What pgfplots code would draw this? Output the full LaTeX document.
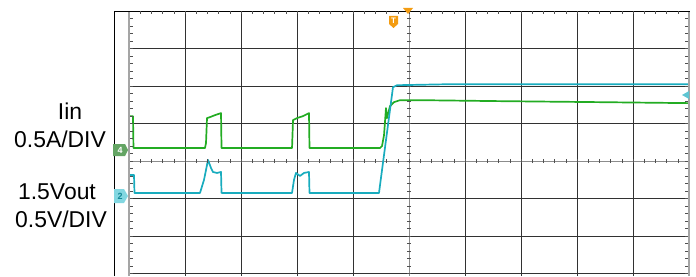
\documentclass[border=0pt]{standalone}
\usepackage{pgfplots}
\pgfplotsset{compat=1.18}
\usepackage{fontspec}
\setmainfont{Liberation Sans}
\definecolor{igreen}{RGB}{35,172,35}
\definecolor{vcyan}{RGB}{25,172,190}
\definecolor{gridc}{RGB}{50,50,50}
\definecolor{borderc}{RGB}{165,165,165}
\definecolor{centerc}{RGB}{140,140,140}
\definecolor{tickc}{RGB}{80,80,80}
\definecolor{trigo}{RGB}{243,156,18}
\definecolor{gmark}{RGB}{100,165,100}
\definecolor{cmark}{RGB}{130,215,225}

% traces in screen divisions (x: 10 div, y: centre line = 0)
\pgfplotstableread{
x y
-5.000 1.197
-4.929 1.197
-4.920 0.346
-3.643 0.346
-3.625 0.479
-3.607 1.144
-3.554 1.170
-3.464 1.223
-3.357 1.277
-3.348 0.346
-2.089 0.346
-2.071 1.090
-2.000 1.144
-1.893 1.197
-1.786 1.277
-1.777 0.346
-0.518 0.346
-0.482 0.399
-0.446 0.691
-0.411 1.410
-0.393 1.144
-0.339 1.463
-0.268 1.569
-0.161 1.622
0.196 1.622
1.625 1.596
3.411 1.569
5.000 1.543
}\iintable

\pgfplotstableread{
x y
-5.000 -0.372
-4.911 -0.372
-4.902 -0.851
-3.732 -0.851
-3.661 -0.505
-3.589 0.027
-3.536 -0.186
-3.500 -0.293
-3.429 -0.319
-3.357 -0.293
-3.348 -0.851
-2.089 -0.851
-2.054 -0.505
-2.018 -0.319
-1.946 -0.399
-1.875 -0.319
-1.786 -0.293
-1.777 -0.851
-0.536 -0.851
-0.286 1.968
-0.214 2.021
0.732 2.048
2.518 2.048
5.000 2.048
}\vouttable

\begin{document}
\begin{tikzpicture}[x=1bp,y=1bp]
\useasboundingbox (0,0) rectangle (696,276);
% outer frame lines
\draw[black, line width=0.9bp] (114,0) -- (114,265);
\begin{axis}[
  at={(129bp,0bp)}, anchor=south west,
  width=560bp, height=265bp, scale only axis,
  xmin=-5, xmax=5, ymin=-3.067, ymax=4,
  axis line style={draw=none},
  xtick={-4,-3,-2,-1,1,2,3,4}, ytick={-3,-2,-1,1,2,3},
  xticklabels={}, yticklabels={},
  major tick length=0pt,
  grid=major,
  major grid style={gridc, line width=0.9bp},
  clip=false,
]
\addplot[centerc, line width=0.9bp] coordinates {(-5,0) (5,0)};
\addplot[centerc, line width=0.9bp] coordinates {(0,-3.067) (0,4)};
\addplot[igreen, line width=1.7bp, line join=round] table[x=x,y=y] {\iintable};
\addplot[vcyan, line width=1.7bp, line join=round] table[x=x,y=y] {\vouttable};
\end{axis}
% borders
\draw[borderc, line width=2bp] (129,0) -- (129,265);
\draw[borderc, line width=2bp] (689,0) -- (689,265);
\draw[black, line width=0.9bp] (114,265) -- (690,265);
% minor ticks
\foreach \k in {1,...,49} {
  \draw[tickc, line width=0.6bp] ({129+\k*11.2},113) -- ({129+\k*11.2},117);
  \draw[tickc, line width=0.6bp] ({129+\k*11.2},265) -- ({129+\k*11.2},262);
}
\foreach \k in {-15,...,19} {
  \draw[tickc, line width=0.6bp] (407,{115+\k*7.5}) -- (411,{115+\k*7.5});
  \draw[tickc, line width=0.6bp] (130,{115+\k*7.5}) -- (133,{115+\k*7.5});
  \draw[tickc, line width=0.6bp] (688,{115+\k*7.5}) -- (685,{115+\k*7.5});
}
% channel markers
\fill[gmark] (113,120) -- (125,120) -- (128,126) -- (125,132) -- (113,132) -- cycle;
\node[text=white, font=\fontsize{9}{9}\selectfont\bfseries, inner sep=0] at (120,126) {4};
\fill[cmark] (114,73) -- (124,73) -- (128,80) -- (124,87) -- (114,87) -- cycle;
\node[text=vcyan!80!black, font=\fontsize{9}{9}\selectfont\bfseries, inner sep=0] at (120,80) {2};
% trigger markers
\fill[trigo] (389,260) -- (398,260) -- (398,252) -- (393.5,248) -- (389,252) -- cycle;
\node[text=white, font=\fontsize{8}{8}\selectfont\bfseries, inner sep=0] at (393.5,255) {T};
\fill[trigo] (403,268) -- (413,268) -- (408,262) -- cycle;
\fill[vcyan!70!white] (682,181) -- (689,185) -- (689,177) -- cycle;
% labels
\begin{scope}[every node/.style={anchor=base, inner sep=0, font=\fontsize{23}{23}\selectfont}]
\node at (70,157) {Iin};
\node at (60,129) {0.5A/DIV};
\node at (57,77) {1.5Vout};
\node at (61,49) {0.5V/DIV};
\end{scope}
\end{tikzpicture}
\end{document}
